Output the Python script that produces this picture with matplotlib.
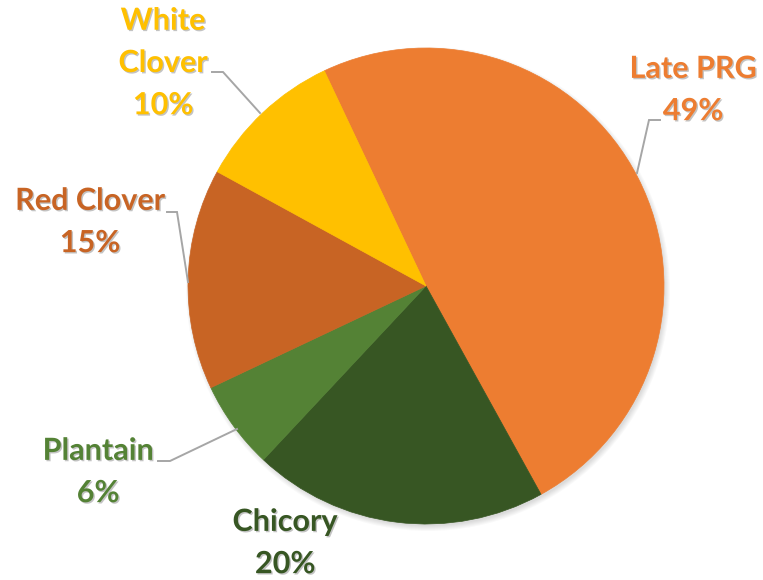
import matplotlib
matplotlib.use('Agg')
from matplotlib import pyplot as plt
from matplotlib.patches import Circle
import matplotlib.patheffects as pe

# Sward mix composition
species = ['Late PRG', 'Chicory', 'Plantain', 'Red Clover', 'White Clover']
shares = [49, 20, 6, 15, 10]
colours = ['#ED7D31', '#375623', '#548235', '#C86424', '#FFC000']

# label text placement (figure pixels) and leader line points (rim -> elbow -> label)
label_lines = ['Late PRG\n49%', 'Chicory\n20%', 'Plantain\n6%', 'Red Clover\n15%', 'White\nClover\n10%']
label_pos = [(693, 90), (285, 543), (98, 472), (90, 222), (163, 63)]
leaders = [
    [(637, 173), (649, 120), (660, 120)],
    None,
    [(237, 429), (170, 461), (158, 461)],
    [(188, 282), (177, 212), (167, 212)],
    [(260, 113), (223, 72), (212, 72)],
]

W, H = 763, 580
cx, cy, r = 426, 286, 238

fig = plt.figure(figsize=(W / 100, H / 100), dpi=100)
ax = fig.add_axes([0, 0, 1, 1])

# soft drop shadow behind the pie
for k in range(6):
    ax.add_patch(Circle((cx + 2, H - cy - 3), r + 4 - k, color='black', alpha=0.025, lw=0, zorder=0))

wedges, _ = ax.pie(shares, colors=colours, startangle=115.3, counterclock=False,
                   center=(cx, H - cy), radius=r, frame=True)
for w in wedges:
    w.set_edgecolor(w.get_facecolor())
    w.set_linewidth(0.5)
ax.set_xlim(0, W)
ax.set_ylim(0, H)
ax.set_aspect('equal')
ax.axis('off')

for pts in leaders:
    if pts is None:
        continue
    xs = [p[0] for p in pts]
    ys = [H - p[1] for p in pts]
    ax.plot(xs, ys, color='#A6A6A6', lw=1.4, solid_joinstyle='miter')

for i, txt in enumerate(label_lines):
    x, y = label_pos[i]
    ax.text(x, H - y, txt, ha='center', va='center', multialignment='center',
            fontsize=22, fontweight='bold', family='Lato', color=colours[i],
            linespacing=1.62,
            path_effects=[pe.withSimplePatchShadow(offset=(1, -1), shadow_rgbFace='#555555', alpha=0.35)])

fig.savefig('out.png', dpi=100, facecolor='white')
